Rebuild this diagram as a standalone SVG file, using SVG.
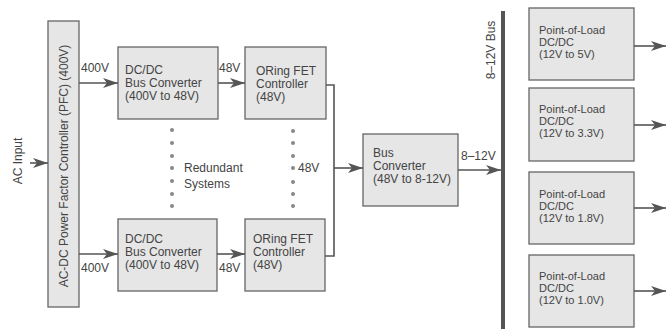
<svg xmlns="http://www.w3.org/2000/svg" width="667" height="329" viewBox="0 0 667 329">
<style>
.box{fill:#e6e6e6;stroke:#666;stroke-width:1.3}
.t{font-family:"Liberation Sans",Arial,sans-serif;font-size:12px;fill:#444}
.s{font-family:"Liberation Sans",Arial,sans-serif;font-size:11px;fill:#444}
.ln{stroke:#555;stroke-width:1.6;fill:none}
.dot{fill:#888}
</style>
<defs>
<marker id="ah" markerUnits="userSpaceOnUse" markerWidth="16" markerHeight="12" refX="15" refY="5" orient="auto">
<path d="M0,0 L15,5 L0,10 L4,5 Z" fill="#555"/>
</marker>
</defs>
<rect width="667" height="329" fill="#fff"/>

<g id="ac-input">
<text class="t" transform="translate(22,161) rotate(-90)" text-anchor="middle">AC Input</text>
</g>

<g id="pfc">
<rect class="box" x="48" y="21" width="31" height="286"/>
<text class="t" transform="translate(68,166) rotate(-90)" text-anchor="middle" font-size="11.3">AC-DC Power Factor Controller (PFC) (400V)</text>
</g>

<g id="dcdc-top">
<rect class="box" x="118" y="47" width="100" height="72"/>
<text class="t" x="125" y="74">DC/DC</text>
<text class="t" x="125" y="87">Bus Converter</text>
<text class="t" x="125" y="100">(400V to 48V)</text>
</g>

<g id="dcdc-bottom">
<rect class="box" x="118" y="219" width="99" height="72"/>
<text class="t" x="125" y="243">DC/DC</text>
<text class="t" x="125" y="256">Bus Converter</text>
<text class="t" x="125" y="269">(400V to 48V)</text>
</g>

<g id="oring-top">
<rect class="box" x="245" y="47" width="81" height="72"/>
<text class="t" x="256" y="75">ORing FET</text>
<text class="t" x="256" y="88">Controller</text>
<text class="t" x="256" y="101">(48V)</text>
</g>

<g id="oring-bottom">
<rect class="box" x="245" y="219" width="80" height="72"/>
<text class="t" x="253" y="243">ORing FET</text>
<text class="t" x="253" y="256">Controller</text>
<text class="t" x="253" y="269">(48V)</text>
</g>

<g id="bus-converter">
<rect class="box" x="363" y="134" width="95" height="72"/>
<text class="t" x="373" y="157">Bus</text>
<text class="t" x="373" y="170">Converter</text>
<text class="t" x="373" y="183">(48V to 8-12V)</text>
</g>

<g id="bus-bar">
<rect x="501" y="11" width="4" height="318" fill="#555"/>
<text class="t" transform="translate(495,50) rotate(-90)" text-anchor="middle">8–12V Bus</text>
</g>

<g id="pol-5v">
<rect class="box" x="529" y="8" width="105" height="72"/>
<text class="s" x="539" y="34">Point-of-Load</text>
<text class="s" x="539" y="46">DC/DC</text>
<text class="s" x="539" y="58">(12V to 5V)</text>
</g>
<g id="pol-3v3">
<rect class="box" x="529" y="88" width="105" height="73"/>
<text class="s" x="539" y="113">Point-of-Load</text>
<text class="s" x="539" y="125">DC/DC</text>
<text class="s" x="539" y="137">(12V to 3.3V)</text>
</g>
<g id="pol-1v8">
<rect class="box" x="529" y="172" width="105" height="72"/>
<text class="s" x="539" y="198">Point-of-Load</text>
<text class="s" x="539" y="210">DC/DC</text>
<text class="s" x="539" y="222">(12V to 1.8V)</text>
</g>
<g id="pol-1v0">
<rect class="box" x="529" y="255" width="105" height="72"/>
<text class="s" x="539" y="280">Point-of-Load</text>
<text class="s" x="539" y="292">DC/DC</text>
<text class="s" x="539" y="304">(12V to 1.0V)</text>
</g>

<g id="redundant">
<circle class="dot" cx="172" cy="130" r="2"/>
<circle class="dot" cx="172" cy="143" r="2"/>
<circle class="dot" cx="172" cy="156" r="2"/>
<circle class="dot" cx="172" cy="168" r="2"/>
<circle class="dot" cx="172" cy="181" r="2"/>
<circle class="dot" cx="172" cy="194" r="2"/>
<circle class="dot" cx="172" cy="206" r="2"/>
<text class="t" x="184" y="172">Redundant</text>
<text class="t" x="184" y="188">Systems</text>
<circle class="dot" cx="293" cy="131" r="2"/>
<circle class="dot" cx="293" cy="143" r="2"/>
<circle class="dot" cx="293" cy="156" r="2"/>
<circle class="dot" cx="293" cy="168" r="2"/>
<circle class="dot" cx="293" cy="182" r="2"/>
<circle class="dot" cx="293" cy="194" r="2"/>
<circle class="dot" cx="293" cy="206" r="2"/>
</g>

<g id="connectors">
<line class="ln" x1="30" y1="163" x2="48" y2="163" marker-end="url(#ah)"/>
<line class="ln" x1="79" y1="83" x2="118" y2="83" marker-end="url(#ah)"/>
<text class="t" x="81" y="72">400V</text>
<line class="ln" x1="79" y1="254" x2="118" y2="254" marker-end="url(#ah)"/>
<text class="t" x="81" y="272">400V</text>
<line class="ln" x1="218" y1="83" x2="245" y2="83" marker-end="url(#ah)"/>
<text class="t" x="219" y="72">48V</text>
<line class="ln" x1="217" y1="254" x2="245" y2="254" marker-end="url(#ah)"/>
<text class="t" x="219" y="272">48V</text>
<polyline class="ln" points="326,85 334,85 334,256 325,256"/>
<line class="ln" x1="334" y1="168" x2="363" y2="168" marker-end="url(#ah)"/>
<text class="t" x="298" y="172">48V</text>
<line class="ln" x1="458" y1="170" x2="501" y2="170" marker-end="url(#ah)"/>
<text class="t" x="461" y="160">8–12V</text>
<line class="ln" x1="634" y1="46" x2="666" y2="46" marker-end="url(#ah)"/>
<line class="ln" x1="634" y1="125" x2="666" y2="125" marker-end="url(#ah)"/>
<line class="ln" x1="634" y1="208" x2="666" y2="208" marker-end="url(#ah)"/>
<line class="ln" x1="634" y1="291" x2="666" y2="291" marker-end="url(#ah)"/>
</g>
</svg>
